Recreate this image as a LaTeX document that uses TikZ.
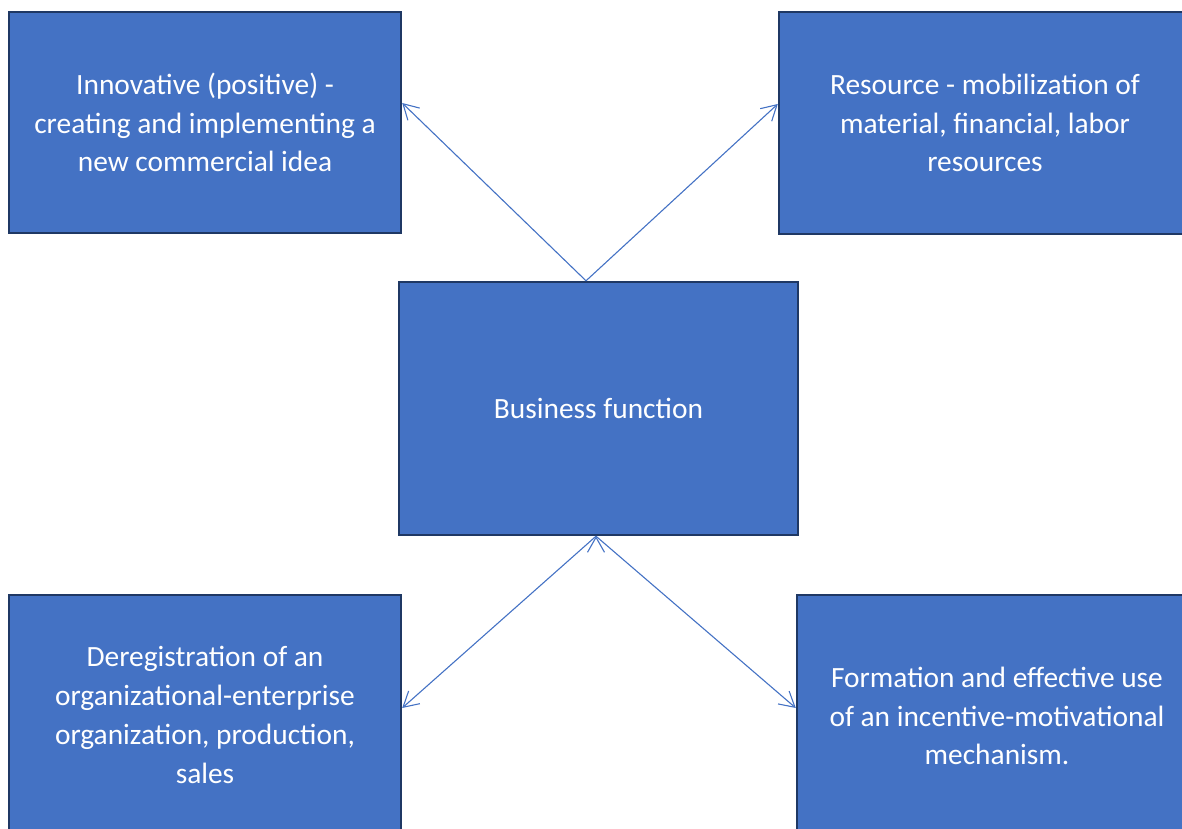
\documentclass[tikz,border=0pt]{standalone}
\usepackage{fontspec}
\setmainfont{Carlito}
\usepackage{tikz}
\usetikzlibrary{arrows.meta, positioning}

\definecolor{boxblue}{HTML}{4472C4}
\definecolor{boxedge}{HTML}{1F3864}

\begin{document}
\begin{tikzpicture}[x=1pt, y=1pt,
    box/.style = {rectangle, draw=boxedge, line width=2.4pt, fill=boxblue,
                  text=white, align=center, inner sep=0pt,
                  font=\fontsize{29.4}{38.8}\selectfont},
    link/.style = {draw=boxblue, line width=1.1pt,
                   -{Straight Barb[length=15pt, width=17pt, line width=1.1pt]}}]
          \useasboundingbox (0,0) rectangle (1182,828);

          \node (business) [box, minimum width=399, minimum height=253] at (598.5,419.5) {Business function};

          \node (innov) [box, minimum width=392, minimum height=221] at (205,705.5)
              {Innovative (positive) -\\creating and implementing a\\new commercial idea};
          \node (resource) [box, minimum width=412, minimum height=222] at (985,705)
              {Resource - mobilization of\\material, financial, labor\\resources};

          \node (dereg) [box, minimum width=392, minimum height=240] at (205,113)
              {Deregistration of an\\organizational-enterprise\\organization, production,\\sales};
          \node (incentive) [box, minimum width=400, minimum height=242] at (997,112)
              {Formation and effective use\\of an incentive-motivational\\mechanism.};

          \path [link]
              ([xshift=-12.5]business.north) edge ([yshift=19.5]innov.east)
              ([xshift=-12.5]business.north) edge ([yshift=19]resource.west)
              ([xshift=-2.5]business.south) edge ([yshift=7]dereg.east)
              ([xshift=-2.5]business.south) edge ([yshift=8]incentive.west)
              ;
      \end{tikzpicture}
\end{document}
